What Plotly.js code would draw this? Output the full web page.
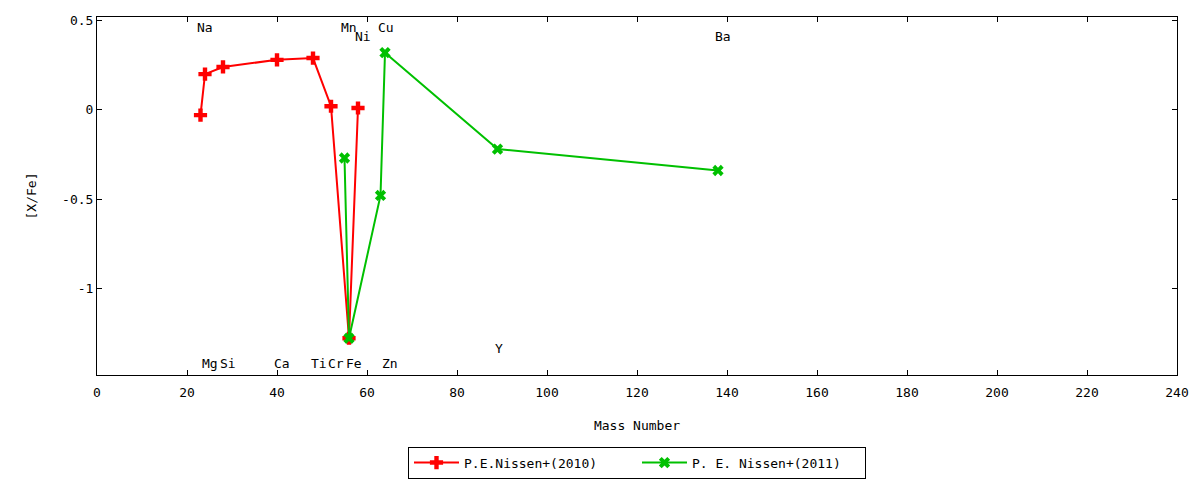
<!DOCTYPE html>
<html>
<head>
<meta charset="utf-8">
<script src="https://cdn.plot.ly/plotly-3.0.1.min.js"></script>
<style>
  html, body { margin: 0; padding: 0; background: #fff; }
  #chart { width: 1200px; height: 480px; }
</style>
</head>
<body>
<div id="chart"></div>
<script>
// P.E.Nissen+(2010)
var massA = [23, 24, 28, 40, 48, 52, 56, 58];
var xfeA  = [-0.03, 0.20, 0.24, 0.28, 0.29, 0.02, -1.28, 0.01];

// P. E. Nissen+(2011)
var massB = [55, 56, 63, 64, 89, 138];
var xfeB  = [-0.27, -1.28, -0.48, 0.32, -0.22, -0.34];

// element labels written on the plot
var elemNames = ['Na', 'Mn', 'Ni', 'Cu', 'Ba', 'Mg', 'Si', 'Ca', 'Ti', 'Cr', 'Fe', 'Zn', 'Y'];
var elemX     = [24.0, 56.0, 59.1, 64.2, 139.0, 25.2, 29.0, 41.2, 49.3, 53.2, 57.2, 65.2, 89.4];
var elemY     = [0.46, 0.46, 0.41, 0.46, 0.41, -1.42, -1.42, -1.42, -1.42, -1.42, -1.42, -1.42, -1.34];

var font = 'DejaVu Sans Mono, monospace';

var trace1 = {
    x: massA,
    y: xfeA,
    name: 'P.E.Nissen+(2010)',
    mode: 'lines+markers',
    line: {color: '#ff0000', width: 2},
    marker: {symbol: 'cross', size: 11, color: '#ff0000'},
    type: 'scatter'
};

var trace2 = {
    x: massB,
    y: xfeB,
    name: 'P. E. Nissen+(2011)',
    mode: 'lines+markers',
    line: {color: '#00c000', width: 2},
    marker: {symbol: 'x', size: 10, color: '#00c000'},
    type: 'scatter'
};

var annotations = elemNames.map(function(name, i) {
    return {
        x: elemX[i],
        y: elemY[i],
        xref: 'x',
        yref: 'y',
        text: name,
        showarrow: false,
        xanchor: 'center',
        yanchor: 'middle',
        font: {family: font, size: 13, color: '#000'}
    };
});

var layout = {
    width: 1200,
    height: 480,
    paper_bgcolor: '#fff',
    plot_bgcolor: '#fff',
    font: {family: font, size: 13, color: '#000'},
    margin: {l: 97, r: 23, t: 17, b: 105, autoexpand: false},
    showlegend: true,
    legend: {
        orientation: 'h',
        x: 0.5,
        xanchor: 'center',
        y: -0.2,
        yanchor: 'top',
        bordercolor: '#000',
        borderwidth: 1,
        itemwidth: 45,
        entrywidth: 168,
        font: {family: font, size: 13, color: '#000'}
    },
    xaxis: {
        range: [0, 240],
        dtick: 20,
        tick0: 0,
        ticks: 'inside',
        ticklen: 5,
        tickcolor: '#000',
        ticklabelstandoff: 5,
        showline: true,
        linecolor: '#000',
        linewidth: 1,
        mirror: 'ticks',
        showgrid: false,
        zeroline: false,
        automargin: false,
        title: {text: 'Mass Number', standoff: 22, font: {family: font, size: 13}}
    },
    yaxis: {
        range: [-1.486, 0.52],
        tickvals: [-1, -0.5, 0, 0.5],
        ticktext: ['-1', '-0.5', '0', '0.5'],
        ticks: 'inside',
        ticklen: 5,
        tickcolor: '#000',
        showline: true,
        linecolor: '#000',
        linewidth: 1,
        mirror: 'ticks',
        showgrid: false,
        zeroline: false,
        automargin: false,
        title: {text: '[X/Fe]', standoff: 22, font: {family: font, size: 13}}
    },
    annotations: annotations
};

Plotly.newPlot('chart', [trace1, trace2], layout, {displayModeBar: false});
</script>
</body>
</html>
